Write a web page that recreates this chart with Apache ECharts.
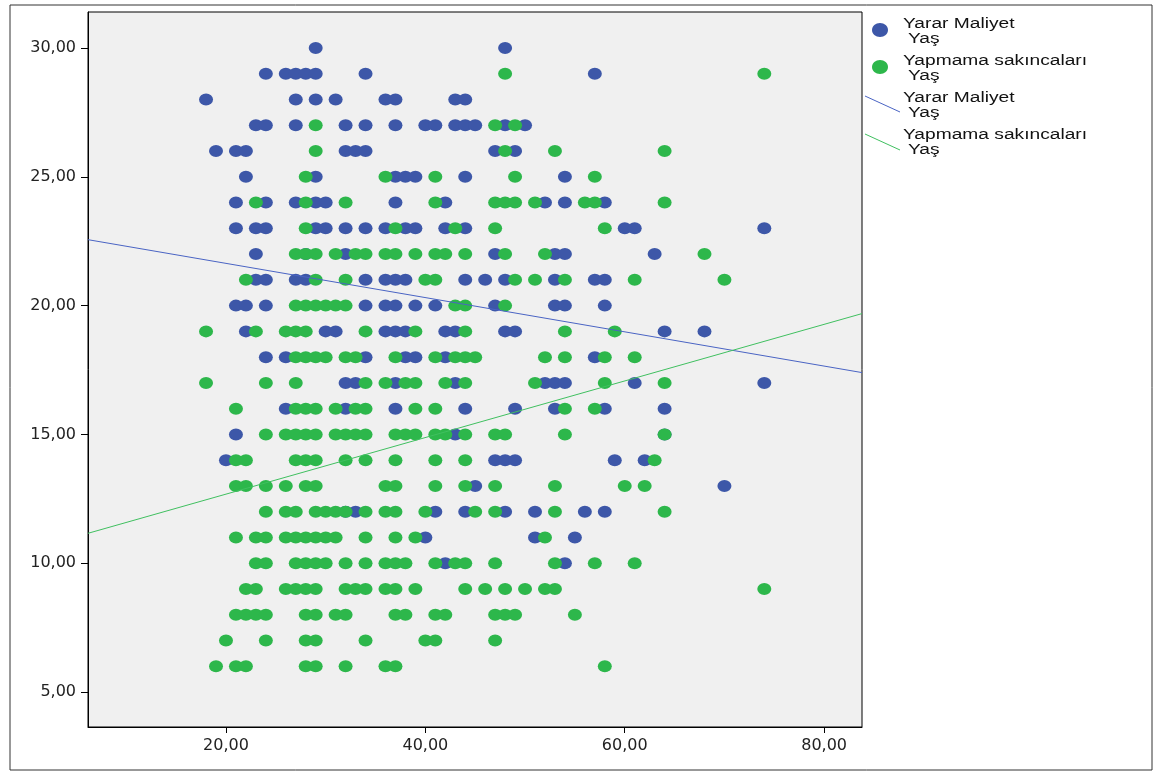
<!DOCTYPE html>
<html>
<head>
<meta charset="utf-8">
<script src="https://cdn.jsdelivr.net/npm/echarts@6/dist/echarts.min.js"></script>
<style>
  html, body { margin: 0; background: #fff; }
  #chart { width: 1164px; height: 774px; }
</style>
</head>
<body>
<div id="chart"></div>
<script>
// Yarar Maliyet (blue): [score, ages at that score]
const yararRows = [
    [30, [29, 48]],
    [29, [24, 26, 27, 28, 29, 34, 57]],
    [28, [18, 27, 29, 31, 36, 37, 43, 44]],
    [27, [23, 24, 27, 32, 34, 37, 40, 41, 43, 44, 45, 48, 50]],
    [26, [19, 21, 22, 32, 33, 34, 47, 49]],
    [25, [22, 29, 37, 38, 39, 44, 54]],
    [24, [21, 24, 27, 29, 30, 37, 42, 52, 54, 58]],
    [23, [21, 23, 24, 29, 30, 32, 34, 36, 38, 39, 42, 44, 60, 61, 74]],
    [22, [23, 28, 32, 47, 53, 54, 63]],
    [21, [23, 24, 27, 28, 34, 36, 37, 38, 44, 46, 48, 53, 57, 58]],
    [20, [21, 22, 24, 34, 36, 37, 39, 41, 47, 53, 54, 58]],
    [19, [22, 30, 31, 36, 37, 38, 42, 43, 48, 49, 64, 68]],
    [18, [24, 26, 34, 38, 39, 42, 57]],
    [17, [32, 33, 37, 43, 52, 53, 54, 61, 74]],
    [16, [26, 32, 37, 44, 49, 53, 58, 64]],
    [15, [21, 43, 64]],
    [14, [20, 47, 48, 49, 59, 62]],
    [13, [45, 70]],
    [12, [32, 33, 41, 44, 48, 51, 56, 58]],
    [11, [40, 51, 55]],
    [10, [42, 54]]
];
// Yapmama sakıncaları (green): [score, ages at that score]
const yapmamaRows = [
    [29, [48, 74]],
    [27, [29, 47, 49]],
    [26, [29, 48, 53, 64]],
    [25, [28, 36, 41, 49, 57]],
    [24, [23, 28, 32, 41, 47, 48, 49, 51, 56, 57, 64]],
    [23, [28, 37, 43, 47, 58]],
    [22, [27, 28, 29, 31, 33, 34, 36, 37, 39, 41, 42, 44, 48, 52, 68]],
    [21, [22, 29, 32, 40, 41, 49, 51, 54, 61, 70]],
    [20, [27, 28, 29, 30, 31, 32, 43, 44, 48]],
    [19, [18, 23, 26, 27, 28, 34, 39, 44, 54, 59]],
    [18, [27, 28, 29, 30, 32, 33, 37, 41, 43, 44, 45, 52, 54, 58, 61]],
    [17, [18, 24, 27, 34, 36, 38, 39, 42, 44, 51, 58, 64]],
    [16, [21, 27, 28, 29, 31, 33, 34, 39, 41, 54, 57]],
    [15, [24, 26, 27, 28, 29, 31, 32, 33, 34, 37, 38, 39, 41, 42, 44, 47, 48, 54, 64]],
    [14, [21, 22, 27, 28, 29, 32, 34, 37, 41, 44, 63]],
    [13, [21, 22, 24, 26, 28, 29, 36, 37, 41, 44, 47, 53, 60, 62]],
    [12, [24, 26, 27, 29, 30, 31, 32, 34, 36, 37, 40, 45, 47, 53, 64]],
    [11, [21, 23, 24, 26, 27, 28, 29, 30, 31, 34, 37, 39, 52]],
    [10, [23, 24, 27, 28, 29, 30, 32, 34, 36, 37, 38, 41, 43, 44, 47, 53, 57, 61]],
    [9, [22, 23, 26, 27, 28, 29, 32, 33, 34, 36, 37, 39, 44, 46, 48, 50, 52, 53, 74]],
    [8, [21, 22, 23, 24, 28, 29, 31, 32, 37, 38, 41, 42, 47, 48, 49, 55]],
    [7, [20, 24, 28, 29, 34, 40, 41, 47]],
    [6, [19, 21, 22, 28, 29, 32, 36, 37, 58]]
];
// fit lines, ends read at the plot edges
const yararFit = [[6.16, 22.56], [83.8, 17.4]];
const yapmamaFit = [[6.16, 11.16], [83.8, 19.69]];
const xTicks = [20, 40, 60, 80];
const yTicks = [5, 10, 15, 20, 25, 30];

const BLUE = '#3d57a8';
const GREEN = '#2db74b';

function toPoints(rows) {
    var pts = [];
    rows.forEach(function (r) {
        r[1].forEach(function (age) { pts.push([age, r[0]]); });
    });
    return pts;
}
function fmt(v) {
    return v.toFixed(2).replace('.', ',');
}

const chart = echarts.init(document.getElementById('chart'), null, { renderer: 'canvas' });

const font = 'Liberation Sans, Arial, sans-serif';
const axisFont = 'DejaVu Sans, sans-serif';
// the reference text is stretched sideways
const legendText = function (x, y, s) {
    return {
        type: 'text', x: x, y: y, scaleX: 1.37,
        style: { text: s, font: '14px ' + font, fill: '#111', textVerticalAlign: 'top' }
    };
};

chart.setOption({
    animation: false,
    backgroundColor: '#fff',
    grid: { left: 88, top: 12, width: 774, height: 715, show: true, backgroundColor: '#f0f0f0', borderColor: '#000', borderWidth: 1 },
    xAxis: {
        type: 'value', min: 6.16, max: 83.8,
        splitLine: { show: false },
        axisLine: { show: true, onZero: false, lineStyle: { color: '#000' } },
        axisTick: { show: true, customValues: xTicks, length: 6, lineStyle: { color: '#000' } },
        axisLabel: { customValues: xTicks, formatter: fmt, color: '#222', fontSize: 16, fontFamily: axisFont, margin: 11 }
    },
    yAxis: {
        type: 'value', min: 3.64, max: 31.4,
        splitLine: { show: false },
        axisLine: { show: true, onZero: false, lineStyle: { color: '#000' } },
        axisTick: { show: true, customValues: yTicks, length: 7, lineStyle: { color: '#000' } },
        axisLabel: { customValues: yTicks, formatter: fmt, color: '#222', fontSize: 16, fontFamily: axisFont, margin: 12 }
    },
    series: [
        {
            name: 'Yarar Maliyet', type: 'scatter', data: toPoints(yararRows),
            symbol: 'circle', symbolSize: [14, 12], itemStyle: { color: BLUE, opacity: 1 }, z: 2
        },
        {
            name: 'Yapmama sakıncaları', type: 'scatter', data: toPoints(yapmamaRows),
            symbol: 'circle', symbolSize: [14, 12], itemStyle: { color: GREEN, opacity: 1 }, z: 3
        },
        {
            type: 'line', data: yararFit, showSymbol: false, z: 4,
            lineStyle: { color: '#4a64c4', width: 1 }
        },
        {
            type: 'line', data: yapmamaFit, showSymbol: false, z: 4,
            lineStyle: { color: '#40c060', width: 1 }
        }
    ],
    graphic: [
        { type: 'rect', shape: { x: 10, y: 5, width: 1142, height: 765 }, style: { fill: 'none', stroke: '#333', lineWidth: 1 } },
        { type: 'ellipse', shape: { cx: 880, cy: 30, rx: 8, ry: 7 }, style: { fill: BLUE } },
        legendText(903, 17, 'Yarar Maliyet'),
        legendText(908, 32, 'Yaş'),
        { type: 'ellipse', shape: { cx: 880, cy: 67, rx: 8, ry: 7 }, style: { fill: GREEN } },
        legendText(903, 54, 'Yapmama sakıncaları'),
        legendText(908, 69, 'Yaş'),
        { type: 'line', shape: { x1: 865, y1: 96, x2: 900, y2: 112 }, style: { stroke: '#4a64c4', lineWidth: 1 } },
        legendText(903, 91, 'Yarar Maliyet'),
        legendText(908, 106, 'Yaş'),
        { type: 'line', shape: { x1: 865, y1: 134, x2: 900, y2: 150 }, style: { stroke: '#40c060', lineWidth: 1 } },
        legendText(903, 128, 'Yapmama sakıncaları'),
        legendText(908, 143, 'Yaş')
    ]
});
</script>
</body>
</html>
